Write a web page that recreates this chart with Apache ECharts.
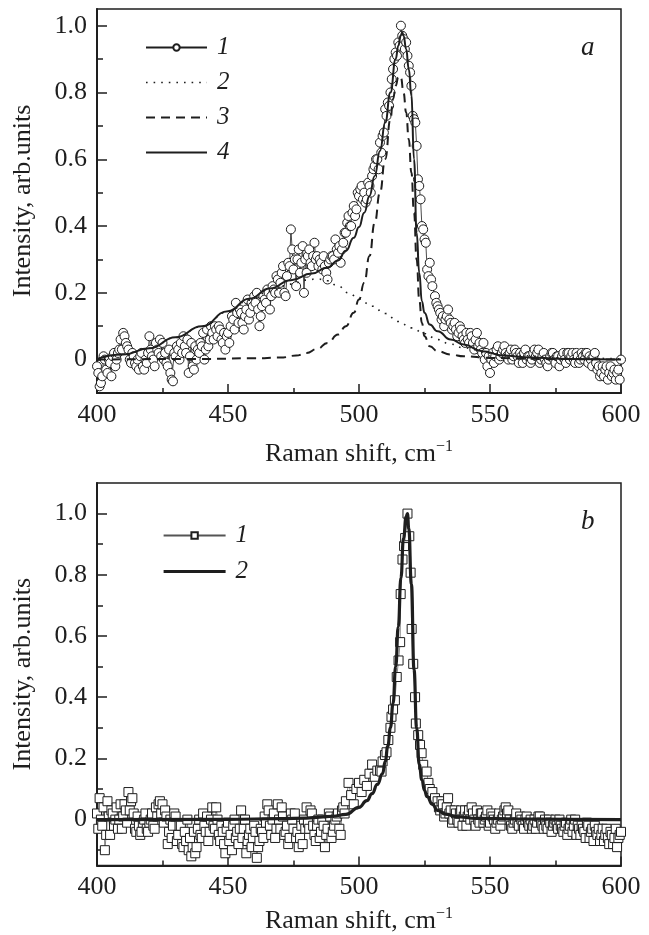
<!DOCTYPE html>
<html>
<head>
<meta charset="utf-8">
<title>Raman spectra</title>
<script src="https://cdn.jsdelivr.net/npm/echarts@6/dist/echarts.min.js"></script>
<style>
  html, body { margin: 0; padding: 0; background: #fff; }
  #chart { width: 649px; height: 935px; }
</style>
</head>
<body>
<div id="chart"></div>
<script>
// ---- panel a: measured spectrum (1) and fit components (2, 3, 4) ----
const spectrumA = [
  [400,-0.02],[401,-0.08],[402,-0.05],[403,0.0],[404,-0.04],[405,-0.01],[406,0.01],[407,-0.02],[408,0.02],[409,0.06],
  [410,0.08],[411,0.05],[412,0.03],[413,-0.01],[414,0.01],[415,-0.02],[416,-0.03],[417,0.02],[418,-0.03],[419,-0.01],
  [420,0.07],[421,0.01],[422,-0.02],[423,0.03],[424,0.06],[425,0.05],[426,0.02],[427,-0.02],[428,-0.04],[429,-0.065],
  [430,0.01],[431,0.03],[432,0.05],[433,0.07],[434,0.02],[435,-0.04],[436,0.05],[437,-0.03],[438,0.0],[439,0.02],
  [440,0.04],[441,0.0],[442,0.09],[443,0.06],[444,0.08],[445,0.1],[446,0.07],[447,0.09],[448,0.05],[449,0.03],
  [450,0.08],[451,0.1],[452,0.12],[453,0.17],[454,0.11],[455,0.14],[456,0.09],[457,0.15],[458,0.12],[459,0.17],
  [460,0.19],[461,0.2],[462,0.1],[463,0.16],[464,0.18],[465,0.21],[466,0.15],[467,0.22],[468,0.2],[469,0.24],
  [470,0.23],[470.5,0.26],[471,0.28],[471.5,0.2],[472,0.19],[472.5,0.25],[473,0.29],[473.5,0.28],[474,0.39],[474.5,0.33],
  [475,0.27],[475.5,0.3],[476,0.22],[476.5,0.3],[477,0.33],[477.5,0.26],[478,0.29],[478.5,0.34],[479,0.2],[479.5,0.3],
  [480,0.26],[480.5,0.31],[481,0.33],[481.5,0.29],[482,0.28],[482.5,0.31],[483,0.35],[483.5,0.3],[484,0.31],[484.5,0.28],
  [485,0.3],[485.5,0.29],[486,0.27],[486.5,0.31],[487,0.28],[487.5,0.26],[488,0.24],[488.5,0.29],[489,0.3],[489.5,0.31],
  [490,0.31],[490.5,0.3],[491,0.36],[491.5,0.33],[492,0.32],[492.5,0.34],[493,0.29],[493.5,0.33],[494,0.35],[494.5,0.38],
  [495,0.38],[495.5,0.41],[496,0.43],[496.5,0.4],[497,0.4],[497.5,0.44],[498,0.46],[498.5,0.43],[499,0.45],[499.5,0.5],
  [500,0.49],[500.5,0.51],[501,0.52],[501.5,0.48],[502,0.5],[502.5,0.47],[503,0.48],[503.5,0.53],[504,0.52],[504.5,0.5],
  [505,0.55],[505.5,0.57],[506,0.58],[506.5,0.6],[507,0.6],[507.5,0.57],[508,0.65],[508.5,0.62],[509,0.67],[509.5,0.68],
  [510,0.75],[510.5,0.73],[511,0.77],[511.5,0.76],[512,0.8],[512.5,0.84],[513,0.87],[513.5,0.9],[514,0.92],[514.5,0.91],
  [515,0.95],[515.5,0.94],[516,1.0],[516.5,0.97],[517,0.96],[517.5,0.93],[518,0.95],[518.5,0.91],[519,0.88],[519.5,0.86],
  [520,0.82],[520.5,0.73],[521,0.72],[521.5,0.71],[522,0.64],[522.5,0.54],[523,0.52],[523.5,0.48],[524,0.4],[524.5,0.39],
  [525,0.36],[525.5,0.35],[526,0.27],[526.5,0.25],[527,0.29],[527.5,0.24],[528,0.22],[529,0.19],
  [530,0.16],[531,0.14],[532,0.13],[533,0.12],[534,0.15],[535,0.11],[536,0.1],[537,0.09],[538,0.08],[539,0.09],
  [540,0.06],[541,0.08],[542,0.05],[543,0.07],[544,0.03],[545,0.08],[546,0.05],[547,0.02],[548,0.0],[549,-0.02],
  [550,-0.04],[551,0.02],[552,0.01],[553,0.04],[554,0.01],[555,0.03],[556,0.02],[557,0.0],[558,0.03],[559,0.01],
  [560,0.02],[561,-0.01],[562,0.01],[563,0.02],[564,0.0],[565,0.01],[566,0.0],[567,0.03],[568,0.02],[569,-0.01],
  [570,0.01],[571,0.0],[572,-0.02],[573,0.01],[574,0.02],[575,-0.01],[576,0.01],[577,0.0],[578,0.02],[579,-0.01],
  [580,0.02],[581,0.01],[582,0.0],[583,0.02],[584,-0.01],[585,0.02],[586,0.0],[587,0.02],[588,0.01],[589,-0.02],
  [590,0.02],[591,-0.03],[592,-0.05],[593,-0.02],[594,-0.03],[595,-0.06],[596,-0.02],[597,-0.04],[598,-0.06],[599,-0.03],
  [600,0.0]
]

// second half of the readings in the tails (the points are denser than one per cm-1)
const spectrumAExtra = [
  [400.5,-0.04],[401.5,-0.07],[402.5,0.01],[403.5,-0.03],[404.5,0.0],[405.5,-0.05],[406.5,0.02],[407.5,0.0],[408.5,0.03],[409.5,0.03],
  [410.5,0.07],[411.5,0.04],[412.5,0.0],[413.5,0.02],[414.5,-0.01],[415.5,0.0],[416.5,0.01],[417.5,-0.02],[418.5,0.0],[419.5,0.02],
  [420.5,0.03],[421.5,0.0],[422.5,0.05],[423.5,0.02],[424.5,0.01],[425.5,0.0],[426.5,-0.01],[427.5,0.03],[428.5,-0.06],[429.5,0.02],
  [430.5,0.04],[431.5,0.0],[432.5,0.02],[433.5,0.04],[434.5,0.06],[435.5,0.01],[436.5,-0.02],[437.5,0.04],[438.5,0.03],[439.5,0.05],
  [440.5,0.08],[441.5,0.03],[442.5,0.04],[443.5,0.1],[444.5,0.06],[445.5,0.09],[446.5,0.1],[447.5,0.06],[448.5,0.08],[449.5,0.07],
  [450.5,0.05],[451.5,0.13],[452.5,0.09],[453.5,0.14],[454.5,0.15],[455.5,0.11],[456.5,0.13],[457.5,0.18],[458.5,0.14],[459.5,0.16],
  [460.5,0.17],[461.5,0.15],[462.5,0.13],[463.5,0.19],[464.5,0.17],[465.5,0.2],[466.5,0.19],[467.5,0.21],[468.5,0.25],[469.5,0.2],
  [529.5,0.17],[530.5,0.15],[531.5,0.12],[532.5,0.1],[533.5,0.13],[534.5,0.12],[535.5,0.09],[536.5,0.11],[537.5,0.07],[538.5,0.1],
  [539.5,0.07],[540.5,0.05],[541.5,0.06],[542.5,0.08],[543.5,0.05],[544.5,0.06],[545.5,0.04],[546.5,0.03],[547.5,0.05],[548.5,0.02],
  [549.5,0.01],[550.5,0.0],[551.5,-0.01],[552.5,0.03],[553.5,0.0],[554.5,0.02],[555.5,0.04],[556.5,0.01],[557.5,0.02],[558.5,0.0],
  [559.5,0.03],[560.5,0.01],[561.5,0.02],[562.5,-0.01],[563.5,0.03],[564.5,0.01],[565.5,-0.01],[566.5,0.02],[567.5,0.01],[568.5,0.03],
  [569.5,0.0],[570.5,0.02],[571.5,-0.01],[572.5,0.0],[573.5,0.02],[574.5,0.0],[575.5,0.01],[576.5,-0.02],[577.5,0.01],[578.5,0.0],
  [579.5,0.02],[580.5,0.0],[581.5,0.02],[582.5,-0.01],[583.5,0.01],[584.5,0.0],[585.5,0.01],[586.5,0.02],[587.5,-0.01],[588.5,0.0],
  [589.5,0.01],[590.5,-0.01],[591.5,-0.02],[592.5,-0.04],[593.5,-0.05],[594.5,-0.02],[595.5,-0.04],[596.5,-0.05],[597.5,-0.03],[598.5,-0.04],
  [599.5,-0.06]
]

// broad component (dotted)
const broadA = [
  [400,0.002],[410,0.015],[420,0.034],[430,0.066],[440,0.099],[450,0.143],[458,0.178],[466,0.205],[474,0.226],
  [480,0.238],[484,0.242],[488,0.236],[492,0.22],[496,0.2],[500,0.182],[505,0.16],[510,0.138],[515,0.114],
  [520,0.095],[525,0.078],[530,0.06],[535,0.046],[540,0.035],[550,0.02],[560,0.012],[580,0.005],[600,0.002]
]

// narrow component (dashed)
const narrowA = [
  [400,0.0],[440,0.002],[460,0.004],[470,0.006],[476,0.012],[480,0.02],[484,0.032],[488,0.05],[492,0.075],
  [495,0.1],[498,0.14],[500,0.18],[502,0.23],[504,0.31],[506,0.41],[508,0.5],[510,0.6],[512,0.72],[513,0.78],
  [514,0.82],[515,0.845],[515.5,0.85],[516,0.845],[517,0.8],[518,0.74],[519,0.66],[520,0.56],[521,0.44],
  [522,0.3],[523,0.18],[524,0.11],[525,0.07],[527,0.04],[530,0.025],[535,0.015],[540,0.01],[550,0.005],
  [570,0.002],[600,0.0]
]

// sum of both components (solid)
const totalA = [
  [400,0.002],[410,0.015],[420,0.034],[430,0.067],[440,0.1],[450,0.145],[458,0.182],[466,0.213],[474,0.238],
  [482,0.258],[488,0.276],[492,0.297],[495,0.326],[498,0.365],[500,0.397],[502,0.44],[504,0.49],[506,0.55],
  [508,0.625],[510,0.71],[512,0.8],[514,0.9],[515,0.94],[516,0.972],[516.5,0.98],[517,0.97],[518,0.93],
  [519,0.87],[520,0.79],[521,0.6],[522,0.38],[523,0.26],[524,0.175],[525,0.14],[527,0.105],[530,0.085],
  [535,0.06],[540,0.045],[547,0.025],[555,0.012],[565,0.006],[580,0.002],[600,0.0]
]

// ---- panel b: measured spectrum (1) and single fit (2) ----
const spectrumB = [
  [400,0.02],[401,0.07],[402,-0.02],[403,-0.1],[404,0.06],[405,-0.05],[406,0.02],[407,0.0],[408,-0.03],[409,0.05],
  [410,0.01],[411,0.03],[412,0.09],[413,0.06],[414,0.02],[415,-0.04],[416,-0.02],[417,-0.04],[418,0.0],[419,-0.03],
  [420,-0.01],[421,0.02],[422,-0.03],[423,0.01],[424,0.06],[425,0.05],[426,0.03],[427,-0.08],[428,0.0],[429,-0.02],
  [430,0.01],[431,-0.05],[432,-0.02],[433,-0.09],[434,-0.07],[435,-0.1],[436,-0.12],[437,-0.04],[438,-0.09],[439,0.0],
  [440,-0.06],[441,-0.02],[442,0.01],[443,-0.04],[444,0.04],[445,-0.03],[446,0.0],[447,-0.07],[448,-0.04],[449,-0.11],
  [450,-0.01],[451,-0.05],[452,-0.02],[453,-0.06],[454,-0.08],[455,0.03],[456,-0.03],[457,-0.11],[458,-0.05],[459,-0.09],
  [460,-0.02],[461,-0.125],[462,-0.07],[463,-0.04],[464,0.01],[465,0.05],[466,-0.02],[467,0.0],[468,-0.06],[469,0.05],
  [470,-0.03],[471,0.01],[472,-0.04],[473,-0.08],[474,0.02],[475,-0.03],[476,-0.06],[477,-0.09],[478,-0.02],[479,0.0],
  [480,0.04],[481,-0.03],[482,0.02],[483,-0.05],[484,-0.02],[485,-0.06],[486,0.0],[487,-0.09],[488,-0.03],[489,0.01],
  [490,-0.04],[491,0.0],[492,0.02],[493,-0.05],[494,0.04],[495,0.06],[496,0.12],[497,0.08],[498,0.05],[499,0.1],
  [500,0.12],[501,0.09],[502,0.13],[503,0.11],[504,0.15],[505,0.18],[506,0.14],[507,0.16],[508,0.16],[508.6,0.157],
  [509,0.19],[509.9,0.211],[510.5,0.22],[511.2,0.26],[512,0.3],[512.4,0.336],[513,0.36],[513.7,0.39],[514.4,0.466],[515.1,0.52],
  [515.7,0.58],[515.9,0.737],[516.6,0.85],[517.2,0.894],[517.6,0.92],[518.5,1.0],[519.2,0.926],[519.7,0.807],[520.1,0.623],[520.7,0.509],
  [521.4,0.4],[521.7,0.314],[522.6,0.276],[523.3,0.244],[523.9,0.217],[524.5,0.179],[525.8,0.157],[526.5,0.12],[527,0.1],[528,0.09],
  [529,0.07],[530,0.06],[531,0.03],[532,0.05],[533,0.02],[534,0.07],[535,0.03],[536,0.0],[537,0.02],[538,-0.01],
  [539,0.03],[540,0.01],[541,-0.02],[542,0.03],[543,0.04],[544,0.0],[545,0.03],[546,-0.01],[547,0.02],[548,0.0],
  [549,0.03],[550,-0.01],[551,0.01],[552,-0.03],[553,0.0],[554,-0.02],[555,0.01],[556,0.04],[557,0.03],[558,-0.02],
  [559,-0.01],[560,0.02],[561,-0.02],[562,0.0],[563,-0.03],[564,0.01],[565,-0.02],[566,-0.03],[567,0.0],[568,-0.01],
  [569,0.01],[570,-0.02],[571,0.0],[572,-0.03],[573,-0.01],[574,-0.02],[575,0.0],[576,-0.03],[577,-0.02],[578,-0.04],
  [579,-0.01],[580,-0.03],[581,0.0],[582,-0.02],[583,-0.05],[584,-0.03],[585,-0.02],[586,-0.04],[587,-0.01],[588,-0.06],
  [589,-0.03],[590,-0.02],[591,-0.05],[592,-0.07],[593,-0.03],[594,-0.05],[595,-0.06],[596,-0.04],[597,-0.08],[598,-0.03],
  [599,-0.06],[600,-0.04]
]

const spectrumBExtra = [
  [400.5,-0.03],[401.5,0.0],[402.5,0.04],[403.5,-0.05],[404.5,0.01],[405.5,0.03],[406.5,-0.02],[407.5,0.04],[408.5,0.0],[409.5,-0.03],
  [410.5,0.05],[411.5,-0.01],[412.5,0.03],[413.5,0.07],[414.5,-0.03],[415.5,0.01],[416.5,-0.05],[417.5,-0.01],[418.5,0.02],[419.5,-0.04],
  [420.5,0.0],[421.5,-0.02],[422.5,0.04],[423.5,0.05],[424.5,0.02],[425.5,-0.01],[426.5,0.01],[427.5,-0.04],[428.5,-0.06],[429.5,0.02],
  [430.5,-0.07],[431.5,-0.02],[432.5,-0.08],[433.5,-0.04],[434.5,0.0],[435.5,-0.06],[436.5,-0.09],[437.5,-0.11],[438.5,-0.03],[439.5,-0.05],
  [440.5,0.02],[441.5,-0.04],[442.5,-0.07],[443.5,0.0],[444.5,-0.02],[445.5,0.04],[446.5,-0.05],[447.5,-0.02],[448.5,-0.08],[449.5,-0.03],
  [450.5,-0.07],[451.5,-0.1],[452.5,0.0],[453.5,-0.04],[454.5,-0.03],[455.5,-0.06],[456.5,0.0],[457.5,-0.07],[458.5,-0.03],[459.5,-0.06],
  [460.5,-0.04],[461.5,-0.09],[462.5,-0.03],[463.5,-0.06],[464.5,-0.01],[465.5,0.03],[466.5,-0.05],[467.5,0.02],[468.5,-0.03],[469.5,0.0],
  [470.5,0.04],[471.5,-0.05],[472.5,-0.02],[473.5,-0.06],[474.5,0.0],[475.5,0.02],[476.5,-0.04],[477.5,-0.06],[478.5,-0.08],[479.5,-0.03],
  [480.5,-0.01],[481.5,0.03],[482.5,-0.02],[483.5,-0.07],[484.5,0.0],[485.5,-0.04],[486.5,-0.02],[487.5,-0.05],[488.5,0.02],[489.5,-0.06],
  [490.5,-0.02],[491.5,0.01],[492.5,-0.03],[493.5,0.03],[494.5,0.02],
  [530.5,0.04],[531.5,0.06],[532.5,0.01],[533.5,0.04],[534.5,0.02],[535.5,-0.01],[536.5,0.03],[537.5,0.0],[538.5,0.02],[539.5,-0.02],
  [540.5,0.03],[541.5,0.01],[542.5,0.0],[543.5,0.02],[544.5,-0.02],[545.5,0.0],[546.5,0.02],[547.5,-0.01],[548.5,0.01],[549.5,-0.02],
  [550.5,0.02],[551.5,0.0],[552.5,-0.01],[553.5,0.02],[554.5,0.0],[555.5,0.03],[556.5,0.02],[557.5,0.0],[558.5,-0.03],[559.5,0.0],
  [560.5,-0.01],[561.5,0.01],[562.5,-0.02],[563.5,0.0],[564.5,-0.01],[565.5,0.0],[566.5,-0.02],[567.5,-0.03],[568.5,0.01],[569.5,-0.01],
  [570.5,-0.03],[571.5,-0.02],[572.5,0.0],[573.5,-0.04],[574.5,-0.01],[575.5,-0.02],[576.5,0.0],[577.5,-0.03],[578.5,-0.02],[579.5,-0.05],
  [580.5,-0.02],[581.5,-0.04],[582.5,0.0],[583.5,-0.02],[584.5,-0.05],[585.5,-0.03],[586.5,-0.06],[587.5,-0.02],[588.5,-0.04],[589.5,-0.07],
  [590.5,-0.04],[591.5,-0.03],[592.5,-0.05],[593.5,-0.07],[594.5,-0.03],[595.5,-0.08],[596.5,-0.05],[597.5,-0.06],[598.5,-0.09],[599.5,-0.05]
]

const fitB = [
  [400,0.0],[450,0.001],[470,0.003],[480,0.005],[485,0.008],[490,0.011],[495,0.017],[500,0.04],[503,0.062],
  [505,0.085],[507,0.115],[509,0.15],[510,0.19],[511,0.24],[512,0.3],[513,0.38],[514,0.5],[515,0.63],[516,0.79],
  [517,0.92],[518,0.99],[518.5,1.0],[519,0.95],[520,0.77],[521,0.49],[522,0.3],[523,0.18],[524,0.13],[525,0.095],
  [526,0.075],[528,0.05],[530,0.03],[533,0.018],[537,0.01],[545,0.004],[560,0.002],[580,0.001],[600,0.0]
]

// tick values
const xRange = [400, 600]
const yRangeA = [-0.1, 1.05]
const yRangeB = [-0.15, 1.1]
const yMajorTicks = [0, 0.2, 0.4, 0.6, 0.8, 1.0]
const yMinorTicks = [-0.1, 0.1, 0.3, 0.5, 0.7, 0.9]

const INK = '#1e1e1e'
const SERIF = '"Liberation Serif", "DejaVu Serif", serif'

const chart = echarts.init(document.getElementById('chart'), null, { renderer: 'canvas' })

// merge the two halves of a measured spectrum, in order of Raman shift
const byShift = (...parts) => [].concat(...parts).sort((p, q) => p[0] - q[0])

/**
 * x axis of one panel
 */
const makeXAxis = (gridIndex, nameGap) => ({
  type: 'value',
  gridIndex,
  min: xRange[0],
  max: xRange[1],
  interval: 50,
  name: 'Raman shift, cm{sup|\u22121}',
  nameLocation: 'middle',
  nameGap,
  nameTextStyle: {
    fontFamily: SERIF,
    fontSize: 26,
    color: INK,
    rich: {
      sup: { fontFamily: SERIF, fontSize: 16, color: INK, padding: [0, 0, 15, 0] }
    }
  },
  axisLine: { show: true, onZero: false, lineStyle: { color: INK, width: 2 } },
  axisTick: { show: true, inside: true, length: 9, lineStyle: { color: INK, width: 1.5 } },
  minorTick: { show: true, splitNumber: 2, length: 5, lineStyle: { color: INK, width: 1.5 } },
  axisLabel: { margin: 9, fontFamily: SERIF, fontSize: 26, color: INK },
  splitLine: { show: false }
})

/**
 * y axes of one panel: labelled major ticks + a second one only for minor ticks
 */
const makeYAxes = (gridIndex, range) => [
  {
    type: 'value',
    gridIndex,
    min: range[0],
    max: range[1],
    name: 'Intensity, arb.units',
    nameLocation: 'middle',
    nameGap: 61,
    nameTextStyle: { fontFamily: SERIF, fontSize: 26, color: INK },
    axisLine: { show: true, onZero: false, lineStyle: { color: INK, width: 2 } },
    axisTick: { show: true, inside: true, length: 10, customValues: yMajorTicks, lineStyle: { color: INK, width: 1.5 } },
    axisLabel: {
      margin: 10,
      fontFamily: SERIF,
      fontSize: 26,
      color: INK,
      customValues: yMajorTicks,
      formatter: v => (Math.abs(v) < 1e-9 ? '0' : v.toFixed(1))
    },
    splitLine: { show: false }
  },
  {
    type: 'value',
    gridIndex,
    min: range[0],
    max: range[1],
    position: 'left',
    axisLine: { show: false },
    axisTick: { show: true, inside: true, length: 6, customValues: yMinorTicks, lineStyle: { color: INK, width: 1.5 } },
    axisLabel: { show: false, customValues: yMinorTicks },
    splitLine: { show: false }
  }
]

const lineSeries = (name, data, xIdx, yIdx, lineStyle, z) => ({
  name,
  type: 'line',
  xAxisIndex: xIdx,
  yAxisIndex: yIdx,
  data,
  symbol: 'none',
  smooth: true,
  smoothMonotone: 'x',
  lineStyle: Object.assign({ color: INK }, lineStyle),
  itemStyle: { color: INK },
  z,
  silent: true
})

const markerSeries = (name, data, xIdx, yIdx, symbol, lineStyle) => ({
  name,
  type: 'line',
  xAxisIndex: xIdx,
  yAxisIndex: yIdx,
  data,
  symbol,
  symbolSize: 9,
  showSymbol: true,
  itemStyle: { color: '#fff', borderColor: INK, borderWidth: 1 },
  lineStyle,
  z: 2,
  silent: true
})

// fitted curves show only their line in the legend
const lineOnly = (name, width) => ({ name, itemStyle: { opacity: 0 }, lineStyle: { width } })

const legendBase = {
  orient: 'vertical',
  padding: 0,
  itemWidth: 61,
  itemHeight: 8,
  selectedMode: false,
  formatter: name => name.slice(1),
  textStyle: {
    fontFamily: SERIF,
    fontStyle: 'italic',
    fontSize: 25,
    lineHeight: 24,
    color: INK,
    padding: [0, 0, 0, 5]
  }
}

const letterStyle = { fontFamily: SERIF, fontStyle: 'italic', fontWeight: 'normal', fontSize: 27, color: INK }

const option = {
  backgroundColor: '#fff',
  animation: false,
  title: [
    { text: 'a', left: 576, top: 29, textStyle: letterStyle },
    { text: 'b', left: 576, top: 503, textStyle: letterStyle }
  ],
  grid: [
    { left: 97, top: 9, width: 524, height: 384, show: true, borderColor: INK, borderWidth: 1.5, containLabel: false },
    { left: 97, top: 483, width: 524, height: 384, show: true, borderColor: INK, borderWidth: 1.5, containLabel: false }
  ],
  legend: [
    Object.assign({}, legendBase, {
      left: 145,
      top: 35,
      itemGap: 10,
      data: ['a1', lineOnly('a2', 1.6), lineOnly('a3', 2), lineOnly('a4', 2)]
    }),
    Object.assign({}, legendBase, {
      left: 162,
      top: 523,
      itemGap: 11,
      itemWidth: 62,
      data: ['b1', lineOnly('b2', 3.2)]
    })
  ],
  xAxis: [makeXAxis(0, 46), makeXAxis(1, 40)],
  yAxis: [...makeYAxes(0, yRangeA), ...makeYAxes(1, yRangeB)],
  series: [
    markerSeries('a1', byShift(spectrumA, spectrumAExtra), 0, 0, 'circle', { color: INK, width: 0.8 }),
    lineSeries('a2', broadA, 0, 0, { width: 1.6, type: [1.6, 6] }, 3),
    lineSeries('a3', narrowA, 0, 0, { width: 2, type: [9, 6] }, 3),
    lineSeries('a4', totalA, 0, 0, { width: 2 }, 4),
    markerSeries('b1', byShift(spectrumB, spectrumBExtra), 1, 2, 'rect', { color: '#555', width: 0.7 }),
    lineSeries('b2', fitB, 1, 2, { width: 3.2 }, 4)
  ]
}

chart.setOption(option)
</script>
</body>
</html>
